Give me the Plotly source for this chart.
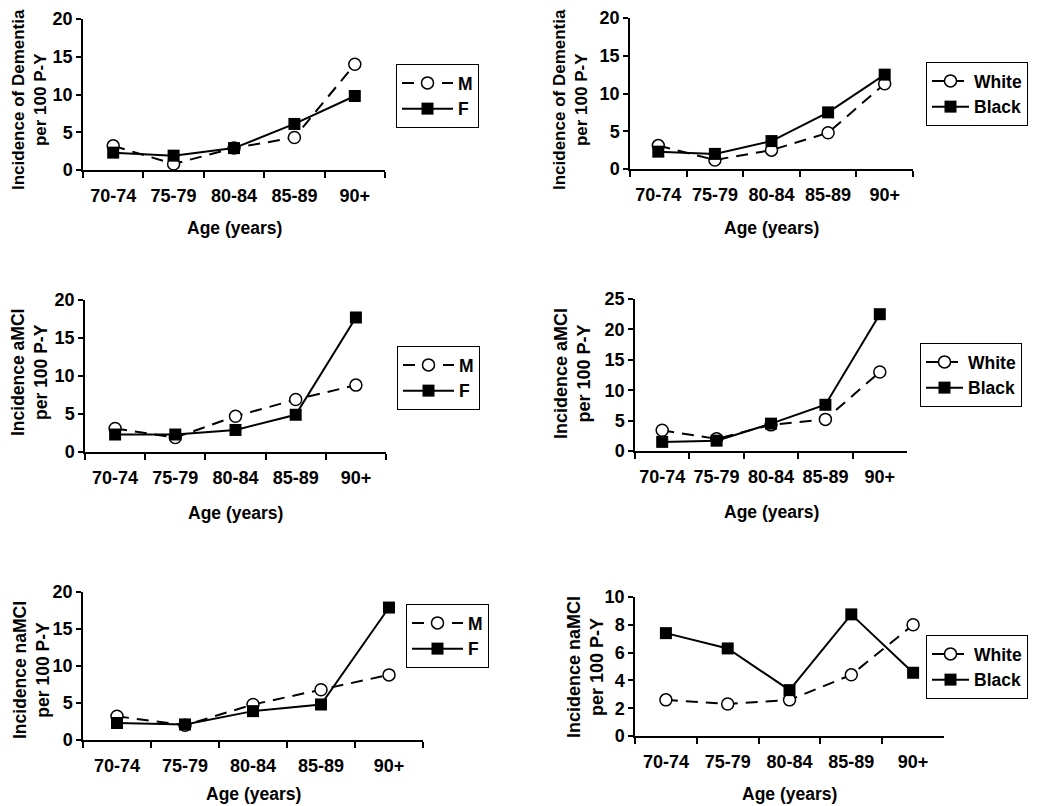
import plotly.graph_objects as go

ages = ["70-74", "75-79", "80-84", "85-89", "90+"]

dem_m = [3.2, 0.8, 2.9, 4.3, 14.0]
dem_f = [2.3, 1.9, 2.9, 6.1, 9.8]
dem_white = [3.1, 1.2, 2.5, 4.8, 11.3]
dem_black = [2.3, 2.0, 3.7, 7.5, 12.5]

amci_m = [3.1, 1.9, 4.7, 6.9, 8.8]
amci_f = [2.3, 2.3, 2.9, 4.9, 17.7]
amci_white = [3.4, 2.0, 4.3, 5.2, 13.0]
amci_black = [1.5, 1.7, 4.5, 7.6, 22.5]

namci_m = [3.2, 2.0, 4.8, 6.8, 8.8]
namci_f = [2.3, 2.1, 3.9, 4.8, 17.9]
namci_white = [2.6, 2.3, 2.6, 4.4, 8.0]
namci_black = [7.4, 6.3, 3.3, 8.75, 4.55]

ytitles = ["Incidence of Dementia<br>per 100 P-Y", "Incidence of Dementia<br>per 100 P-Y",
           "Incidence aMCI<br>per 100 P-Y", "Incidence aMCI<br>per 100 P-Y",
           "Incidence naMCI<br>per 100 P-Y", "Incidence naMCI<br>per 100 P-Y"]
xtitle = "Age (years)"

# the page body has an 8px default margin; work in screenshot pixels and convert
OFF = 8
W, H = 1050 - OFF, 806 - OFF
FONT = "Liberation Sans, Arial, sans-serif"


def fx(px):
    return (px - OFF) / W


def fy(py):
    return 1 - (py - OFF) / H


# panel geometry in screenshot pixels: (x0, x1, ytop, ybottom)
panels = [
    (83, 385, 19, 170),
    (630, 913, 18, 169),
    (85, 386, 300, 452),
    (635, 907, 299, 451),
    (83, 423, 592, 740),
    (635, 944, 597, 736),
]
yranges = [(0, 20, 5), (0, 20, 5), (0, 20, 5), (0, 25, 5), (0, 20, 5), (0, 10, 2)]
legend_pos = [(396, 64), (926, 62), (397, 346), (920, 343), (406, 604), (926, 635)]
legend_iw = [51, 37, 51, 37, 51, 37]
ytitle_pos = [(29, 100), (570, 100), (29, 373), (572, 374), (31, 670), (585, 667)]
ytitle_size = [17, 17, 17.5, 18, 17.5, 18]
xtitle_y = [228, 228, 513, 512, 794, 794]

series = [
    (("M", dem_m), ("F", dem_f)),
    (("White", dem_white), ("Black", dem_black)),
    (("M", amci_m), ("F", amci_f)),
    (("White", amci_white), ("Black", amci_black)),
    (("M", namci_m), ("F", namci_f)),
    (("White", namci_white), ("Black", namci_black)),
]

fig = go.Figure()
annotations = []
layout = {}
for i, (p, yr, lp, sers) in enumerate(zip(panels, yranges, legend_pos, series)):
    n = "" if i == 0 else str(i + 1)
    x0, x1, yt, yb = p
    legname = "legend" + n
    (n1, v1), (n2, v2) = sers
    fig.add_trace(go.Scatter(
        x=ages, y=v1, name=n1, mode="lines+markers",
        line=dict(color="black", width=2, dash="12px,8px"),
        marker=dict(symbol="circle", size=12, color="white", line=dict(color="black", width=1.5)),
        xaxis="x" + n, yaxis="y" + n, legend=legname, cliponaxis=False))
    fig.add_trace(go.Scatter(
        x=ages, y=v2, name=n2, mode="lines+markers",
        line=dict(color="black", width=2),
        marker=dict(symbol="square", size=12, color="black"),
        xaxis="x" + n, yaxis="y" + n, legend=legname, cliponaxis=False))
    layout["xaxis" + n] = dict(
        domain=[fx(x0), fx(x1)], anchor="y" + n, type="category", automargin=False,
        categoryorder="array", categoryarray=ages, range=[-0.5, 4.5],
        showline=True, linecolor="black", linewidth=1.5, showgrid=False, zeroline=False,
        ticks="outside", tickson="boundaries", ticklen=6, tickcolor="black", tickwidth=1.5,
        ticklabelstandoff=9, tickangle=0,
        tickfont=dict(size=18, color="black", family=FONT, weight="bold"))
    layout["yaxis" + n] = dict(
        domain=[fy(yb), fy(yt)], anchor="x" + n, automargin=False,
        range=[yr[0], yr[1]], dtick=yr[2], tick0=0,
        showline=True, linecolor="black", linewidth=1.5, showgrid=False, zeroline=False,
        ticks="outside", ticklen=5, tickcolor="black", tickwidth=1.5,
        tickfont=dict(size=18, color="black", family=FONT, weight="bold"))
    layout[legname] = dict(
        x=fx(lp[0]), y=fy(lp[1]), xanchor="left", yanchor="top",
        bordercolor="black", borderwidth=1, bgcolor="white",
        font=dict(size=17.5, color="black", family=FONT, weight="bold"),
        tracegroupgap=0, itemwidth=legend_iw[i])
    tx, ty = ytitle_pos[i]
    annotations.append(dict(
        text=ytitles[i], x=fx(tx), y=fy(ty), xref="paper", yref="paper",
        xanchor="center", yanchor="middle", textangle=-90, showarrow=False,
        font=dict(size=ytitle_size[i], color="black", family=FONT, weight="bold")))
    annotations.append(dict(
        text=xtitle, x=fx((x0 + x1) / 2), y=fy(xtitle_y[i]), xref="paper", yref="paper",
        xanchor="center", yanchor="middle", showarrow=False,
        font=dict(size=17.5, color="black", family=FONT, weight="bold")))

fig.update_layout(
    template="none",
    width=W, height=H, margin=dict(l=0, r=0, t=0, b=0, pad=0, autoexpand=False),
    paper_bgcolor="white", plot_bgcolor="white",
    font=dict(family=FONT, color="black", weight="bold"),
    annotations=annotations, **layout)

fig.write_html("out.html")
